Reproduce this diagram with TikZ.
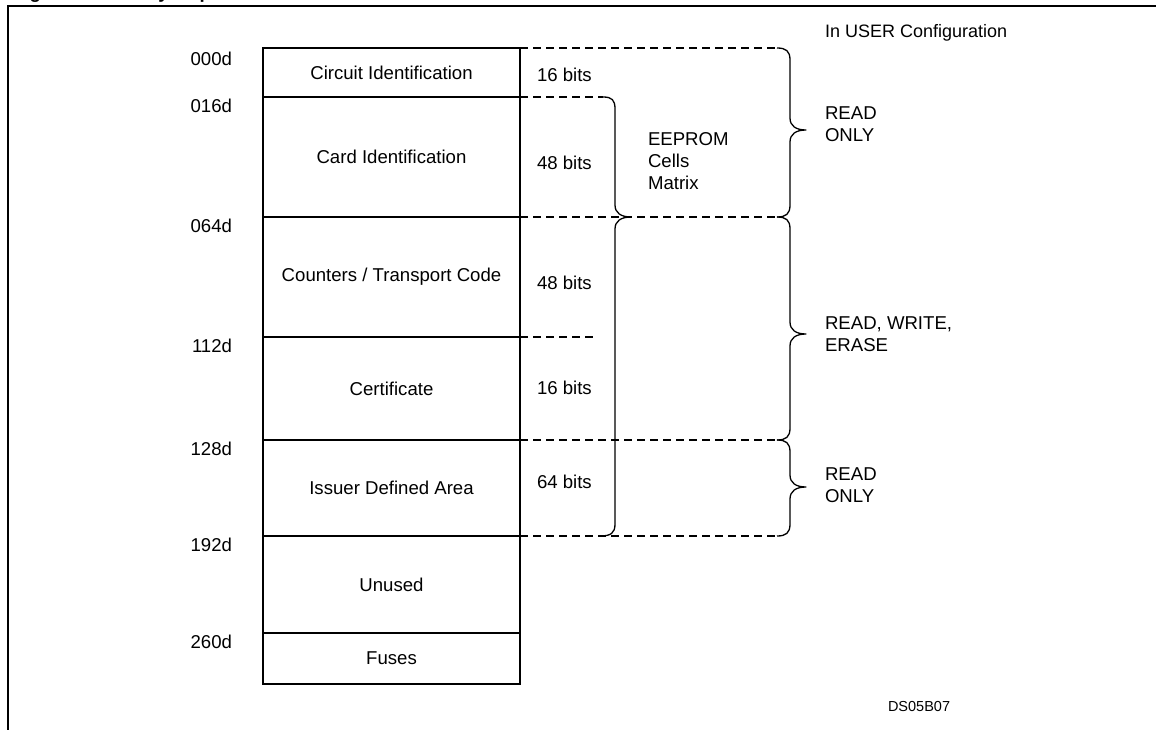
\documentclass[tikz,border=0pt]{standalone}
\usepackage{fontspec}
\setmainfont{Liberation Sans}
\begin{document}
\begin{tikzpicture}[x=1pt,y=-1pt,
  every node/.style={font=\fontsize{18.6}{22}\selectfont, inner sep=0pt, outer sep=0pt},
  row/.style={draw, line width=1.8pt, minimum width=257pt, anchor=north west, align=center},
  addr/.style={anchor=east},
  bits/.style={anchor=west},
  side/.style={anchor=west, align=left},
  dashline/.style={line width=1.1pt, dash pattern=on 8pt off 5pt},
  bracestyle/.style={line width=1.3pt, line join=round},
  framestyle/.style={line width=2pt}]
\useasboundingbox (0,0) rectangle (1156,730);
\clip (0,0) rectangle (1156,730);

% frame and cut title
\draw[framestyle] (8,740) -- (8,6) -- (1170,6);
\node[anchor=base west, font=\bfseries\fontsize{18.6}{22}\selectfont] (title) at (13,-1) {Figure 2. Memory Map};

% memory rows
\node[row, minimum height=49pt]  (r1) at (263,48)  {Circuit Identification};
\node[row, minimum height=120pt] (r2) at (263,97)  {Card Identification};
\node[row, minimum height=120pt] (r3) at (263,217) {Counters / Transport Code};
\node[row, minimum height=103pt] (r4) at (263,337) {Certificate};
\node[row, minimum height=96pt]  (r5) at (263,440) {Issuer Defined Area};
\node[row, minimum height=97pt]  (r6) at (263,536) {Unused};
\node[row, minimum height=51pt]  (r7) at (263,633) {Fuses};

% addresses
\node[addr] (a1) at (232,59)  {000d};
\node[addr] (a2) at (232,106) {016d};
\node[addr] (a3) at (232,226) {064d};
\node[addr] (a4) at (232,346) {112d};
\node[addr] (a5) at (232,449) {128d};
\node[addr] (a6) at (232,545) {192d};
\node[addr] (a7) at (232,642) {260d};

% sizes
\node[bits] (s1) at (537,75)  {16 bits};
\node[bits] (s2) at (537,163) {48 bits};
\node[bits] (s3) at (537,283) {48 bits};
\node[bits] (s4) at (537,388) {16 bits};
\node[bits] (s5) at (537,482) {64 bits};

% side texts
\node[side] (ee) at (648,161) {EEPROM\\Cells\\Matrix};
\node[side] (ro1) at (825,124) {READ\\ONLY};
\node[side] (rwe) at (825,334) {READ, WRITE,\\ERASE};
\node[side] (ro2) at (825,485) {READ\\ONLY};
\node[anchor=west, font=\fontsize{18}{22}\selectfont] (cfg) at (825,33) {In USER Configuration};
\node[anchor=west, font=\fontsize{14.5}{17}\selectfont] (ds) at (888,707) {DS05B07};

% brace end coordinates
\coordinate (b1t) at (777,48);
\coordinate (b1b) at (777,217);
\coordinate (b2b) at (777,440);
\coordinate (b3b) at (777,536);
\coordinate (ebt) at (603,97);
\coordinate (mid) at (595,337);

% dashed lines
\draw[dashline] (r1.north east) -- (b1t);
\draw[dashline] (r2.north east) -- (ebt);
\draw[dashline] (r3.north east) -- (b1b);
\draw[dashline] (r4.north east) -- (mid);
\draw[dashline] (r5.north east) -- (b2b);
\draw[dashline] (r6.north east) -- (b3b);

% braces
% EEPROM brace: x0=615, top 97, tip 217, bottom 536
\draw[bracestyle] (603,97) .. controls (612,97) and (615,100) .. (615,109)
  -- (615,205) .. controls (615,213) and (621,217) .. (631,217)
  .. controls (621,217) and (615,221) .. (615,229)
  -- (615,524) .. controls (615,533) and (611,536) .. (600,536);
% READ ONLY brace: x0=790, top 48, tip 130, bottom 217
\draw[bracestyle] (777,48) .. controls (786,48) and (790,51) .. (790,60)
  -- (790,118) .. controls (790,126) and (796,130) .. (806,130)
  .. controls (796,130) and (790,134) .. (790,142)
  -- (790,205) .. controls (790,214) and (786,217) .. (777,217);
% READ WRITE ERASE brace: top 217, tip 334, bottom 440
\draw[bracestyle] (777,217) .. controls (786,217) and (790,220) .. (790,229)
  -- (790,322) .. controls (790,330) and (796,334) .. (806,334)
  .. controls (796,334) and (790,338) .. (790,346)
  -- (790,428) .. controls (790,437) and (786,440) .. (777,440);
% READ ONLY brace 2: top 440, tip 487, bottom 536
\draw[bracestyle] (777,440) .. controls (786,440) and (790,443) .. (790,452)
  -- (790,475) .. controls (790,483) and (796,487) .. (806,487)
  .. controls (796,487) and (790,491) .. (790,499)
  -- (790,524) .. controls (790,533) and (786,536) .. (777,536);
\end{tikzpicture}
\end{document}
